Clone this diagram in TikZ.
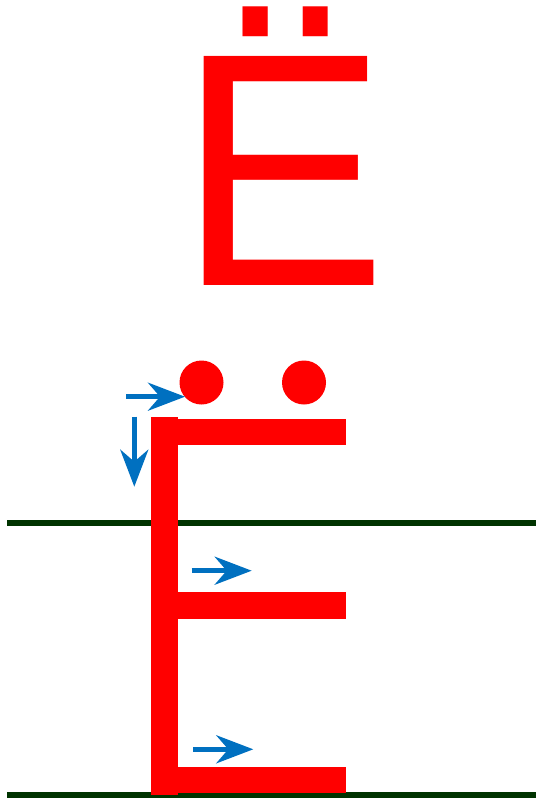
\documentclass[tikz,border=0pt]{standalone}
\usepackage{fontspec}
\setmainfont{Liberation Sans}
\usetikzlibrary{arrows.meta}
\definecolor{letterred}{RGB}{255,0,0}
\definecolor{hintblue}{RGB}{0,112,192}
\definecolor{rulegreen}{RGB}{0,51,0}

\begin{document}
\begin{tikzpicture}[x=1pt,y=-1pt,
	rule/.style={line width=6pt, rulegreen},
	hint/.style={line width=5pt, hintblue, -{Stealth[length=37pt,width=28pt,inset=12pt]}},
	dot/.style={circle, fill=letterred, inner sep=0pt, minimum size=44pt}]
	\useasboundingbox (0,0) rectangle (537,799);
	% the printed letter, set as text
	\node[letterred, inner sep=0pt, anchor=base west,
		font=\fontsize{333pt}{333pt}\selectfont] (printed) at (178,285.7) {\scalebox{0.94}[1]{Ё}};
	% the two ruled lines, under the written letter
	\draw[rule] (7,522.7) -- (535.7,522.7);
	\draw[rule] (7,795) -- (535.7,795);
	% the written letter: stem, then three bars
	\fill[letterred] (151,416.7) rectangle (177.7,795);
	\fill[letterred] (177.7,419) rectangle (346,445);
	\fill[letterred] (177.7,592.3) rectangle (345.7,619.3);
	\fill[letterred] (177.7,766.7) rectangle (345.7,793.3);
	% the two dots
	\node[dot] (dotL) at (201.5,382.5) {};
	\node[dot] (dotR) at (304,382.5) {};
	% stroke order hints
	\draw[hint] (126,396.7) -- (185,396.7);
	\draw[hint] (134.3,416.7) -- (134.3,486.7);
	\draw[hint] (191.7,570.7) -- (251.7,570.7);
	\draw[hint] (193.3,749.3) -- (253.3,749.3);
\end{tikzpicture}
\end{document}
